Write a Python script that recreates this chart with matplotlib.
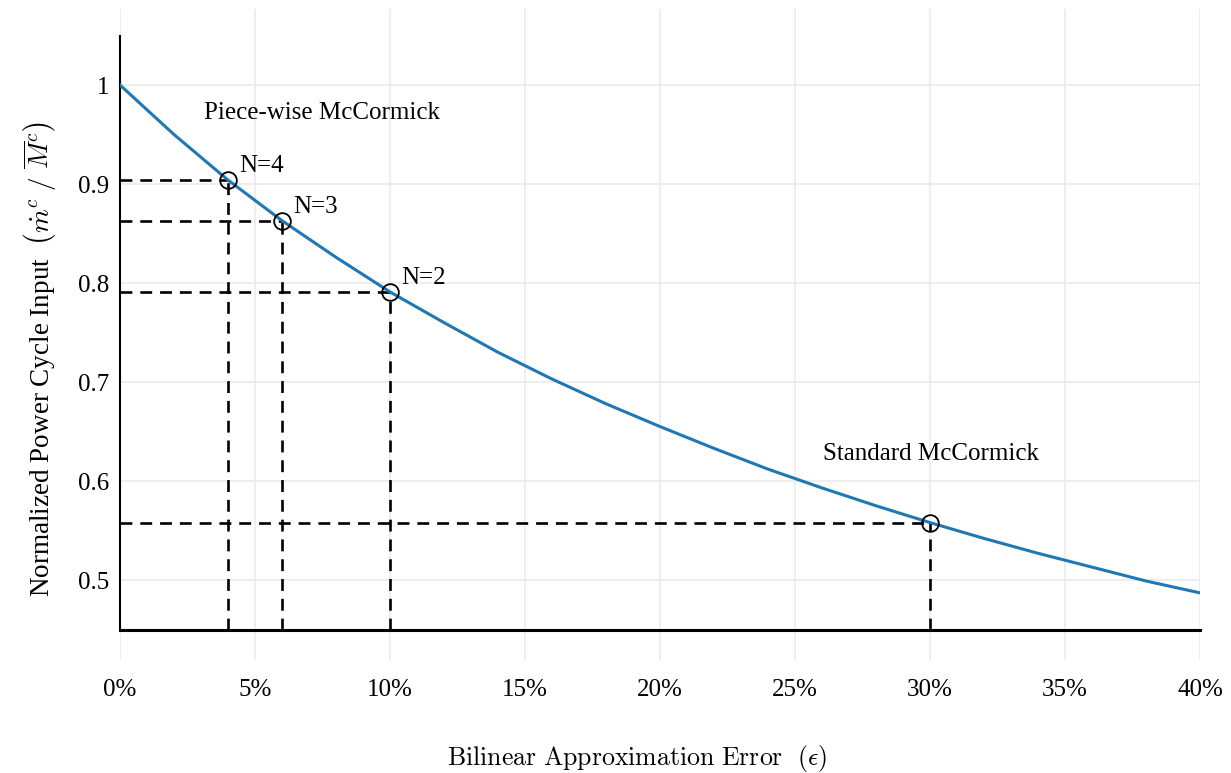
import matplotlib
matplotlib.use("Agg")
import matplotlib.pyplot as plt
from matplotlib.ticker import FixedLocator

plt.rcParams['mathtext.fontset'] = 'cm'
plt.rcParams['font.family'] = ['Liberation Serif', 'DejaVu Serif']

# Curve (error in %, normalized input)
err_pct = [0, 2, 4, 6, 8, 10, 12, 14, 16, 18, 20, 22, 24, 26, 28, 30, 32, 34, 36, 38, 40]
norm_input = [1.000, 0.950, 0.904, 0.863, 0.826, 0.791, 0.760, 0.730, 0.703, 0.678,
              0.655, 0.633, 0.612, 0.593, 0.575, 0.558, 0.542, 0.527, 0.513, 0.499, 0.487]

# Highlighted points
pt_labels = ["N=4", "N=3", "N=2", ""]
pt_err = [4, 6, 10, 30]
pt_val = [0.904, 0.863, 0.791, 0.558]

x_ticks = [0, 5, 10, 15, 20, 25, 30, 35, 40]
x_ticklabels = ["0%", "5%", "10%", "15%", "20%", "25%", "30%", "35%", "40%"]
y_ticks = [0.5, 0.6, 0.7, 0.8, 0.9, 1.0]
y_ticklabels = ["0.5", "0.6", "0.7", "0.8", "0.9", "1"]

W, H = 1231, 773
fig = plt.figure(figsize=(W / 100, H / 100), dpi=100)
L, R, T, B = 120, 1200, 9, 660
ax = fig.add_axes([L / W, 1 - B / H, (R - L) / W, (B - T) / H])

y_base = 0.45
ax.set_xlim(0, 40)
ax.set_ylim(0.4192, 1.0768)

for s in ax.spines.values():
    s.set_visible(False)

ax.grid(True, color='#ebebeb', linewidth=1.2, zorder=0)
ax.xaxis.set_major_locator(FixedLocator(x_ticks))
ax.yaxis.set_major_locator(FixedLocator(y_ticks))
ax.set_xticklabels(x_ticklabels)
ax.set_yticklabels(y_ticklabels)
ax.tick_params(axis='both', length=0, labelsize=18)
ax.tick_params(axis='x', pad=14)
ax.tick_params(axis='y', pad=8)

# axis lines
ax.plot([0, 40], [y_base, y_base], color='black', linewidth=2.2, zorder=3, clip_on=False)
ax.plot([0, 0], [y_base, 1.05], color='black', linewidth=1.5, zorder=3, clip_on=False)

# dashed guide lines
for xe, yv in zip(pt_err, pt_val):
    ax.plot([0, xe], [yv, yv], color='black', linestyle=(0, (4.5, 3)), linewidth=1.9, zorder=2)
    ax.plot([xe, xe], [y_base, yv], color='black', linestyle=(0, (4.5, 3)), linewidth=1.9, zorder=2)

ax.plot(err_pct, norm_input, color='#1f77b4', linewidth=2.2, zorder=4)
ax.plot(pt_err, pt_val, linestyle='none', marker='o', markersize=12,
        markerfacecolor='none', markeredgecolor='black', markeredgewidth=1.3, zorder=5)

for lab, xe, yv in zip(pt_labels, pt_err, pt_val):
    if lab:
        ax.annotate(lab, (xe, yv), xytext=(8, 2), textcoords='offset points',
                    fontsize=18, ha='left', va='bottom')

ax.text(7.48, 0.972, "Piece-wise McCormick", fontsize=18, ha='center', va='center')
ax.text(30.04, 0.627, "Standard McCormick", fontsize=18, ha='center', va='center')

fig.text(637 / W, 1 - 759 / H,
         r"$\mathrm{Bilinear\ Approximation\ Error}\ \ (\epsilon)$",
         fontsize=18.6, ha='center', va='center')
fig.text(40 / W, 1 - 359 / H,
         r"Normalized Power Cycle Input  $\left(\dot{m}^c\ /\ \overline{M}^c\right)$",
         fontsize=19.5, ha='center', va='center', rotation=90)

fig.savefig("out.png", dpi=100)
